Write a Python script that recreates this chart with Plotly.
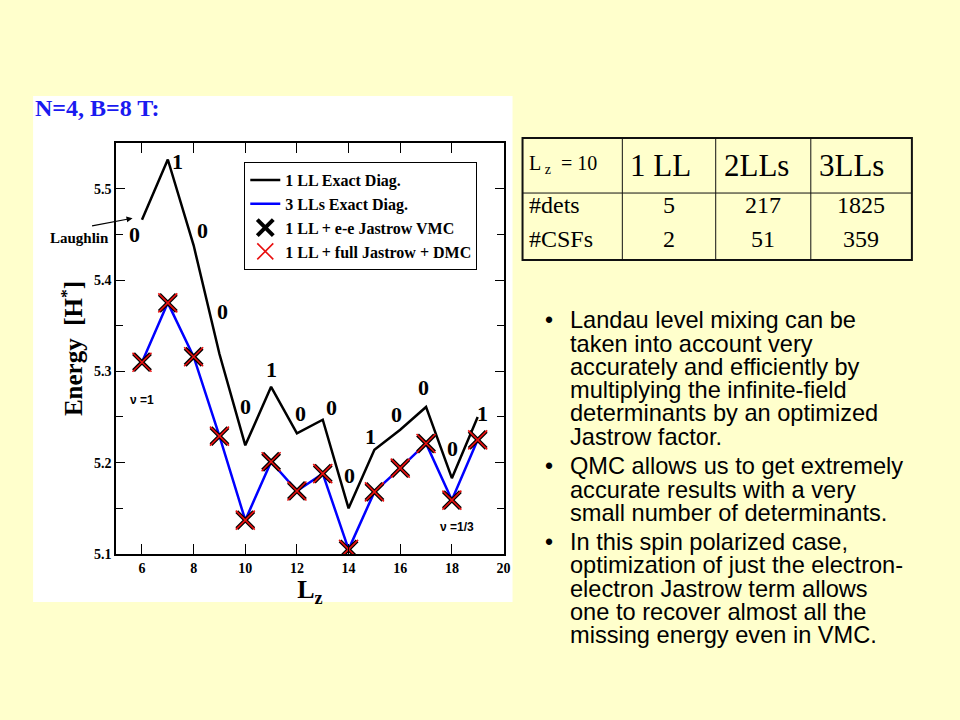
import plotly.graph_objects as go

# ---------------- data ----------------
lz = [6, 7, 8, 9, 10, 11, 12, 13, 14, 15, 16, 17, 18, 19]
e_1ll_exact = [5.466, 5.532, 5.438, 5.319, 5.219, 5.283, 5.232, 5.247, 5.150, 5.214, 5.236, 5.261, 5.183, 5.250]
e_3ll_exact = [5.310, 5.375, 5.316, 5.229, 5.137, 5.201, 5.169, 5.188, 5.105, 5.168, 5.194, 5.221, 5.159, 5.225]
e_vmc = [5.310, 5.375, 5.316, 5.229, 5.137, 5.201, 5.169, 5.188, 5.105, 5.168, 5.194, 5.221, 5.159, 5.225]
e_dmc = [5.310, 5.375, 5.316, 5.229, 5.137, 5.201, 5.169, 5.188, 5.105, 5.168, 5.194, 5.221, 5.159, 5.225]
state_labels = ["0", "1", "0", "0", "0", "1", "0", "0", "0", "1", "0", "0", "0", "1"]

series_names = ["1 LL Exact Diag.", "3 LLs Exact Diag.", "1 LL + e-e Jastrow VMC", "1 LL + full Jastrow + DMC"]

x_tick_vals = [6, 8, 10, 12, 14, 16, 18, 20]

table_header = ["1 LL", "2LLs", "3LLs"]
table_rows = ["#dets", "#CSFs"]
n_dets = ["5", "217", "1825"]
n_csfs = ["2", "51", "359"]

bullets = [
    ["Landau level mixing can be", "taken into account very", "accurately and efficiently by",
     "multiplying the infinite-field", "determinants by an optimized", "Jastrow factor."],
    ["QMC allows us to get extremely", "accurate results with a very", "small number of determinants."],
    ["In this spin polarized case,", "optimization of just the electron-", "electron Jastrow term allows",
     "one to recover almost all the", "missing energy even in VMC."],
]

# ---------------- style ----------------
PAGE_MARGIN = 8            # default body margin of the html page
VIEW_W, VIEW_H = 968, 728  # css size that ends up in the 960x720 picture
SX, SY = 960 / VIEW_W, 720 / VIEW_H
W, H = VIEW_W - 2 * PAGE_MARGIN, VIEW_H - 2 * PAGE_MARGIN
BG = "#FFFFCC"
SERIF = "Liberation Serif"
SANS = "Liberation Sans"


def px(x):
    return (x / SX - PAGE_MARGIN) / W


def py(y):
    return 1 - (y / SY - PAGE_MARGIN) / H


def ptext(x, y, text, font, xanchor="left", yanchor="middle"):
    return dict(x=px(x), y=py(y), xref="paper", yref="paper", text=text, showarrow=False,
                xanchor=xanchor, yanchor=yanchor, font=font)


# pixel offsets of the state labels relative to the 1 LL points
label_shift = [(-7, -15), (10, -2), (9, 15), (3, 42), (0, 39), (0, 17), (4, 20), (9, 12),
               (1, 33), (-4, 13), (-4, 15), (-3, 19), (1, 30), (5, 3)]

fig = go.Figure()
fig.add_trace(go.Scatter(x=lz, y=e_1ll_exact, mode="lines", name=series_names[0],
                         line=dict(color="black", width=2.5)))
fig.add_trace(go.Scatter(x=lz, y=e_3ll_exact, mode="lines", name=series_names[1],
                         line=dict(color="#0000FF", width=2.5)))
fig.add_trace(go.Scatter(x=lz, y=e_vmc, mode="markers", name=series_names[2],
                         marker=dict(symbol="x-thin", size=17, color="black",
                                     line=dict(color="black", width=4))))
fig.add_trace(go.Scatter(x=lz, y=e_dmc, mode="markers", name=series_names[3],
                         marker=dict(symbol="x-thin", size=19, color="#E81010",
                                     line=dict(color="#E81010", width=1.6))))

annotations = []
for xv, yv, t, (dx, dy) in zip(lz, e_1ll_exact, state_labels, label_shift):
    annotations.append(dict(x=xv, y=yv, xref="x", yref="y", text=t, showarrow=False,
                            xanchor="center", yanchor="middle", xshift=dx, yshift=dy,
                            font=dict(family=SERIF, size=22, color="black", weight="bold")))

annotations += [
    dict(x=6.01, y=5.269, xref="x", yref="y", text="ν =1", showarrow=False,
         xanchor="center", yanchor="middle",
         font=dict(family=SANS, size=12, color="black", weight="bold")),
    dict(x=18.2, y=5.13, xref="x", yref="y", text="ν =1/3", showarrow=False,
         xanchor="center", yanchor="middle",
         font=dict(family=SANS, size=12, color="black", weight="bold")),
    ptext(79, 238, "Laughlin", dict(family=SERIF, size=15, color="black", weight="bold"),
          xanchor="center"),
    dict(x=5.635, y=5.4677, xref="x", yref="y", text="", showarrow=True,
         ax=-42, ay=8, arrowhead=2, arrowsize=1, arrowwidth=1.2, arrowcolor="black"),
    ptext(33, 108, "N=4, B=8 T:", dict(family=SERIF, size=24, color="#1A1AF0", weight="bold")),
]

# ---------------- table ----------------
tx0, tx1, ty0, ty1 = 522, 911, 138, 260
col_x = [621.7, 715, 810]
head_y = 193
shapes = [
    dict(type="rect", xref="paper", yref="paper", x0=px(33), x1=px(512), y0=py(602), y1=py(96),
         fillcolor="white", line=dict(width=0), layer="below"),
    dict(type="rect", xref="paper", yref="paper", x0=px(tx0), x1=px(tx1), y0=py(ty1), y1=py(ty0),
         line=dict(color="#111111", width=2)),
    dict(type="line", xref="paper", yref="paper", x0=px(tx0), x1=px(tx1), y0=py(head_y), y1=py(head_y),
         line=dict(color="#111111", width=1)),
]
for cx in col_x:
    shapes.append(dict(type="line", xref="paper", yref="paper", x0=px(cx), x1=px(cx),
                       y0=py(ty1), y1=py(ty0), line=dict(color="#111111", width=1)))

annotations.append(ptext(526, 164, "L<sub> z</sub>  = 10", dict(family=SERIF, size=20, color="black")))
for cx, t in zip(col_x, table_header):
    annotations.append(ptext(cx + 6, 165, t, dict(family=SERIF, size=31, color="black")))
col_centers = [(col_x[0] + col_x[1]) / 2, (col_x[1] + col_x[2]) / 2, (col_x[2] + tx1) / 2]
for ry, rl, vals in zip([205, 239], table_rows, [n_dets, n_csfs]):
    annotations.append(ptext(526, ry, rl, dict(family=SERIF, size=24, color="black")))
    for cc, v in zip(col_centers, vals):
        annotations.append(ptext(cc, ry, v, dict(family=SERIF, size=24, color="black"), xanchor="center"))

# ---------------- bullets ----------------
group_base = [328.3, 474.3, 550.0]
line_step = 23.3
for base, lines in zip(group_base, bullets):
    annotations.append(ptext(548, base - 8, "•", dict(family=SANS, size=23, color="black"), xanchor="center"))
    for i, ln in enumerate(lines):
        annotations.append(ptext(567, base + i * line_step - 8, ln, dict(family=SANS, size=23.6, color="black")))

axis_common = dict(showline=True, linecolor="black", linewidth=1.5, mirror="allticks",
                   ticks="inside", tickcolor="black", showgrid=False, zeroline=False,
                   tickfont=dict(family=SERIF, size=14, color="black", weight="bold"))

fig.update_layout(
    width=W, height=H,
    margin=dict(l=0, r=0, t=0, b=0),
    paper_bgcolor=BG, plot_bgcolor="white",
    xaxis=dict(domain=[px(116), px(503)], range=[5, 20], tickvals=x_tick_vals, ticklen=10,
               title=dict(text="L<sub>z</sub>", standoff=4,
                          font=dict(family=SERIF, size=26, color="black", weight="bold")),
               **axis_common),
    yaxis=dict(domain=[py(554), py(143)], range=[5.1, 5.55], tick0=5.1, dtick=0.1, tickformat=".1f",
               ticklen=9, minor=dict(dtick=0.05, ticks="inside", ticklen=7, tickcolor="black"),
               title=dict(text="Energy  [H<sup>*</sup>]", standoff=4,
                          font=dict(family=SERIF, size=25, color="black", weight="bold")),
               **axis_common),
    legend=dict(x=px(244), y=py(162), xanchor="left", yanchor="top", bgcolor="white",
                bordercolor="black", borderwidth=1,
                font=dict(family=SERIF, size=16, color="black", weight="bold")),
    shapes=shapes,
    annotations=annotations,
    showlegend=True,
)

fig.write_html("out.html", config={"displayModeBar": False},
               post_script="document.body.style.backgroundColor='" + BG + "';")
